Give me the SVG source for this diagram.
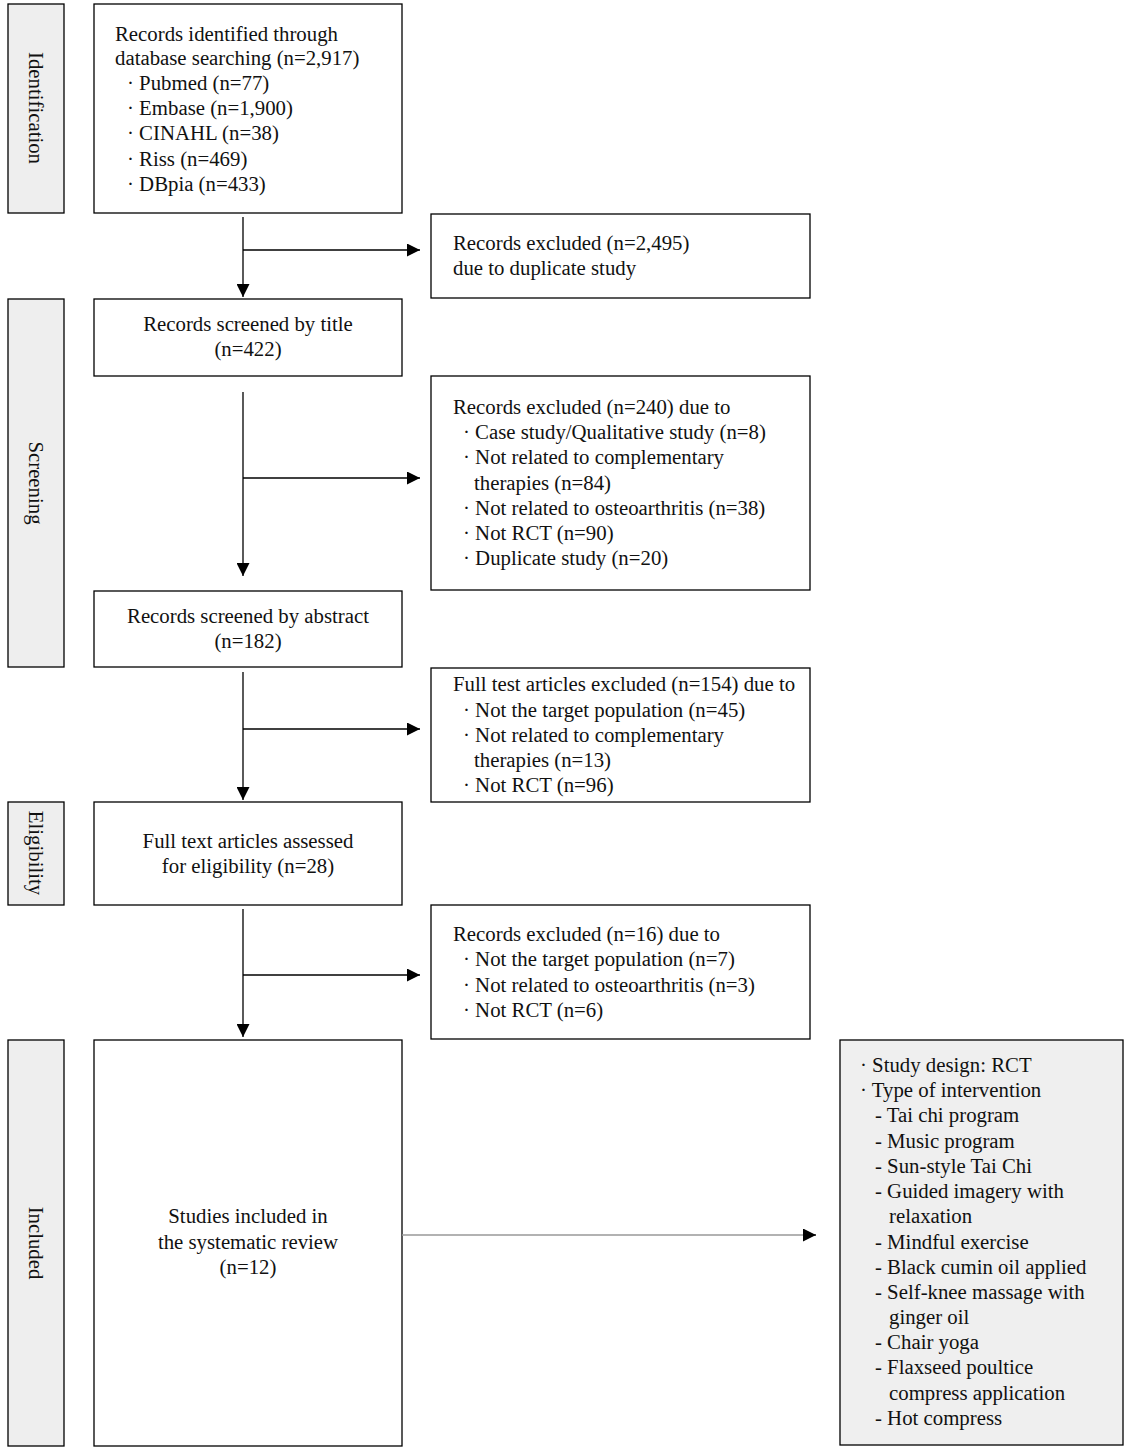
<svg xmlns="http://www.w3.org/2000/svg" width="1128" height="1452" viewBox="0 0 1128 1452">
<defs>
<style>
text{font-family:"Liberation Serif","Times New Roman",serif;font-size:20.8px;fill:#111}
.c{text-anchor:middle}
.box{fill:#fff;stroke:#000;stroke-width:1.3}
.stage{fill:#eeeeee;stroke:#000;stroke-width:1.3}
.gbox{fill:#efefef;stroke:#000;stroke-width:1.3}
.ln{stroke:#000;stroke-width:1.3;fill:none}
</style>
<marker id="ah" viewBox="0 0 10 10" refX="10" refY="5" markerWidth="13" markerHeight="13" markerUnits="userSpaceOnUse" orient="auto">
<path d="M0,0 L10,5 L0,10 Z" fill="#000"/>
</marker>
</defs>
<rect width="1128" height="1452" fill="#fff"/>

<g id="stage-identification">
<rect class="stage" x="8" y="4" width="56" height="209"/>
<text class="c" transform="translate(36,108) rotate(90)" dy="7">Identification</text>
</g>
<g id="stage-screening">
<rect class="stage" x="8" y="299" width="56" height="368"/>
<text class="c" transform="translate(36,483) rotate(90)" dy="7">Screening</text>
</g>
<g id="stage-eligibility">
<rect class="stage" x="8" y="802" width="56" height="103"/>
<text class="c" transform="translate(36,853) rotate(90)" dy="7">Eligibility</text>
</g>
<g id="stage-included">
<rect class="stage" x="8" y="1040" width="56" height="406"/>
<text class="c" transform="translate(36,1243) rotate(90)" dy="7">Included</text>
</g>

<g id="identified">
<rect class="box" x="94" y="4" width="308" height="209"/>
<text x="115" y="41">Records identified through</text>
<text x="115" y="65">database searching (n=2,917)</text>
<text x="127" y="90">· Pubmed (n=77)</text>
<text x="127" y="115">· Embase (n=1,900)</text>
<text x="127" y="140">· CINAHL (n=38)</text>
<text x="127" y="166">· Riss (n=469)</text>
<text x="127" y="191">· DBpia (n=433)</text>
</g>

<g id="excluded-duplicate">
<rect class="box" x="431" y="214" width="379" height="84"/>
<text x="453" y="250">Records excluded (n=2,495)</text>
<text x="453" y="275">due to duplicate study</text>
</g>

<g id="screened-title">
<rect class="box" x="94" y="299" width="308" height="77"/>
<text class="c" x="248" y="331">Records screened by title</text>
<text class="c" x="248" y="356">(n=422)</text>
</g>

<g id="excluded-240">
<rect class="box" x="431" y="376" width="379" height="214"/>
<text x="453" y="414">Records excluded (n=240) due to</text>
<text x="463" y="439">· Case study/Qualitative study (n=8)</text>
<text x="463" y="464">· Not related to complementary</text>
<text x="474" y="490">therapies (n=84)</text>
<text x="463" y="515">· Not related to osteoarthritis (n=38)</text>
<text x="463" y="540">· Not RCT (n=90)</text>
<text x="463" y="565">· Duplicate study (n=20)</text>
</g>

<g id="screened-abstract">
<rect class="box" x="94" y="591" width="308" height="76"/>
<text class="c" x="248" y="623">Records screened by abstract</text>
<text class="c" x="248" y="648">(n=182)</text>
</g>

<g id="excluded-154">
<rect class="box" x="431" y="668" width="379" height="134"/>
<text x="453" y="691">Full test articles excluded (n=154) due to</text>
<text x="463" y="717">· Not the target population (n=45)</text>
<text x="463" y="742">· Not related to complementary</text>
<text x="474" y="767">therapies (n=13)</text>
<text x="463" y="792">· Not RCT (n=96)</text>
</g>

<g id="assessed">
<rect class="box" x="94" y="802" width="308" height="103"/>
<text class="c" x="248" y="848">Full text articles assessed</text>
<text class="c" x="248" y="873">for eligibility (n=28)</text>
</g>

<g id="excluded-16">
<rect class="box" x="431" y="905" width="379" height="134"/>
<text x="453" y="941">Records excluded (n=16) due to</text>
<text x="463" y="966">· Not the target population (n=7)</text>
<text x="463" y="992">· Not related to osteoarthritis (n=3)</text>
<text x="463" y="1017">· Not RCT (n=6)</text>
</g>

<g id="included">
<rect class="box" x="94" y="1040" width="308" height="406"/>
<text class="c" x="248" y="1223">Studies included in</text>
<text class="c" x="248" y="1249">the systematic review</text>
<text class="c" x="248" y="1274">(n=12)</text>
</g>

<g id="characteristics">
<rect class="gbox" x="840" y="1040" width="283" height="405"/>
<text x="860" y="1072">· Study design: RCT</text>
<text x="860" y="1097">· Type of intervention</text>
<text x="875" y="1122">- Tai chi program</text>
<text x="875" y="1148">- Music program</text>
<text x="875" y="1173">- Sun-style Tai Chi</text>
<text x="875" y="1198">- Guided imagery with</text>
<text x="889" y="1223">relaxation</text>
<text x="875" y="1249">- Mindful exercise</text>
<text x="875" y="1274">- Black cumin oil applied</text>
<text x="875" y="1299">- Self-knee massage with</text>
<text x="889" y="1324">ginger oil</text>
<text x="875" y="1349">- Chair yoga</text>
<text x="875" y="1374">- Flaxseed poultice</text>
<text x="889" y="1400">compress application</text>
<text x="875" y="1425">- Hot compress</text>
</g>

<g id="connectors">
<line class="ln" x1="243" y1="217" x2="243" y2="297" marker-end="url(#ah)"/>
<line class="ln" x1="243" y1="250" x2="420" y2="250" marker-end="url(#ah)"/>
<line class="ln" x1="243" y1="392" x2="243" y2="576" marker-end="url(#ah)"/>
<line class="ln" x1="243" y1="478" x2="420" y2="478" marker-end="url(#ah)"/>
<line class="ln" x1="243" y1="672" x2="243" y2="800" marker-end="url(#ah)"/>
<line class="ln" x1="243" y1="729" x2="420" y2="729" marker-end="url(#ah)"/>
<line class="ln" x1="243" y1="909" x2="243" y2="1037" marker-end="url(#ah)"/>
<line class="ln" x1="243" y1="975" x2="420" y2="975" marker-end="url(#ah)"/>
<line x1="402" y1="1235" x2="804" y2="1235" stroke="#999" stroke-width="1.3"/>
<line x1="804" y1="1235" x2="816" y2="1235" stroke="#000" stroke-width="1.3" marker-end="url(#ah)"/>
</g>
</svg>
